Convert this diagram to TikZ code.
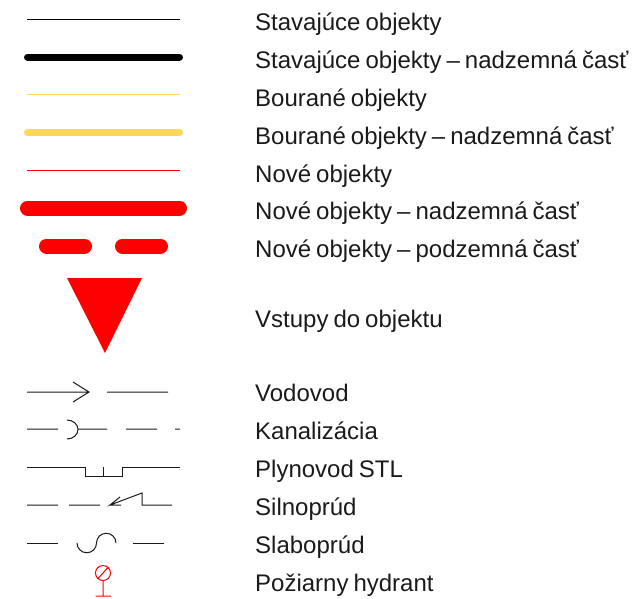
\documentclass[tikz,border=0pt]{standalone}
\usepackage{fontspec}
\setmainfont[WordSpace=0.75]{Liberation Sans}
\definecolor{lgink}{HTML}{1A1A1A}
\definecolor{lgyellow}{HTML}{FFD75C}
\definecolor{lgred}{HTML}{FF0000}
\tikzset{
  lg label/.style={font=\fontsize{24}{26}\selectfont, text=lgink, anchor=base west, inner sep=0pt},
  lg thin/.style={line width=1pt},
  lg wide/.style={line width=7pt, line cap=round},
  lg fat/.style={line width=15pt, line cap=round},
  lg net/.style={draw=lgink, line width=1pt}
}
\begin{document}
\begin{tikzpicture}[x=1pt, y=-1pt]
  \useasboundingbox (0,0) rectangle (637,598);
  % building lines
  \draw[lg thin, draw=black] (27,19)--(180,19);
  \draw[lg wide, draw=black] (27.5,57)--(179.5,57);
  \draw[lg thin, draw=lgyellow] (27,94.7)--(180,94.7);
  \draw[lg wide, draw=lgyellow] (27.5,132.5)--(179.5,132.5);
  \draw[lg thin, draw=lgred] (27,170.5)--(180,170.5);
  \draw[lg fat, draw=lgred] (27.5,208)--(179.5,208);
  \draw[lg fat, draw=lgred] (46.5,246)--(84.5,246) (122.5,246)--(160.5,246);
  \fill[lgred] (67,278)--(142,278)--(105,353)--cycle;
  % utility lines
  \draw[lg net] (27,392)--(89,392) (73,382)--(89,392)--(73,402) (107,392)--(168,392);
  \draw[lg net] (27,429)--(58,429) (67,420) arc[start angle=-90, end angle=90, x radius=11, y radius=9.5] (78,429)--(107,429)
    (126,429)--(157,429) (175,429)--(180,429);
  \draw[lg net] (27,467)--(85,467)--(85,476)--(122,476)--(122,467)--(180,467) (103,467)--(103,476);
  \draw[lg net] (27,505)--(58,505) (69,505)--(100,505) (120,497)--(110,505)--(142,493)--(142,505)--(172,505) (110,505)--(121,505);
  \draw[lg net] (27,543)--(58,543) (133,543)--(164,543);
  \draw[lg net] (77,543) arc[start angle=180, end angle=0, radius=9.75] arc[start angle=180, end angle=360, radius=9.75];
  \draw[draw=lgred, line width=1pt] (103,573) circle[radius=7.5] (98,578.5)--(108,567.5) (103,580.5)--(103,596) (95.5,596)--(111,596);
  % labels
  \node[lg label] (existing) at (255,30) {Stavajúce objekty};
  \node[lg label] (existingup) at (255,68) {Stavajúce objekty – nadzemná časť};
  \node[lg label] (removed) at (255,106) {Bourané objekty};
  \node[lg label] (removedup) at (255,144) {Bourané objekty – nadzemná časť};
  \node[lg label] (new) at (255,182) {Nové objekty};
  \node[lg label] (newup) at (255,219) {Nové objekty – nadzemná časť};
  \node[lg label] (newdown) at (255,257) {Nové objekty – podzemná časť};
  \node[lg label] (entry) at (255,327) {Vstupy do objektu};
  \node[lg label] (water) at (255,401) {Vodovod};
  \node[lg label] (sewer) at (255,439) {Kanalizácia};
  \node[lg label] (gas) at (255,477) {Plynovod STL};
  \node[lg label] (power) at (255,515) {Silnoprúd};
  \node[lg label] (lowpower) at (255,553) {Slaboprúd};
  \node[lg label] (hydrant) at (255,591) {Požiarny hydrant};
\end{tikzpicture}
\end{document}
